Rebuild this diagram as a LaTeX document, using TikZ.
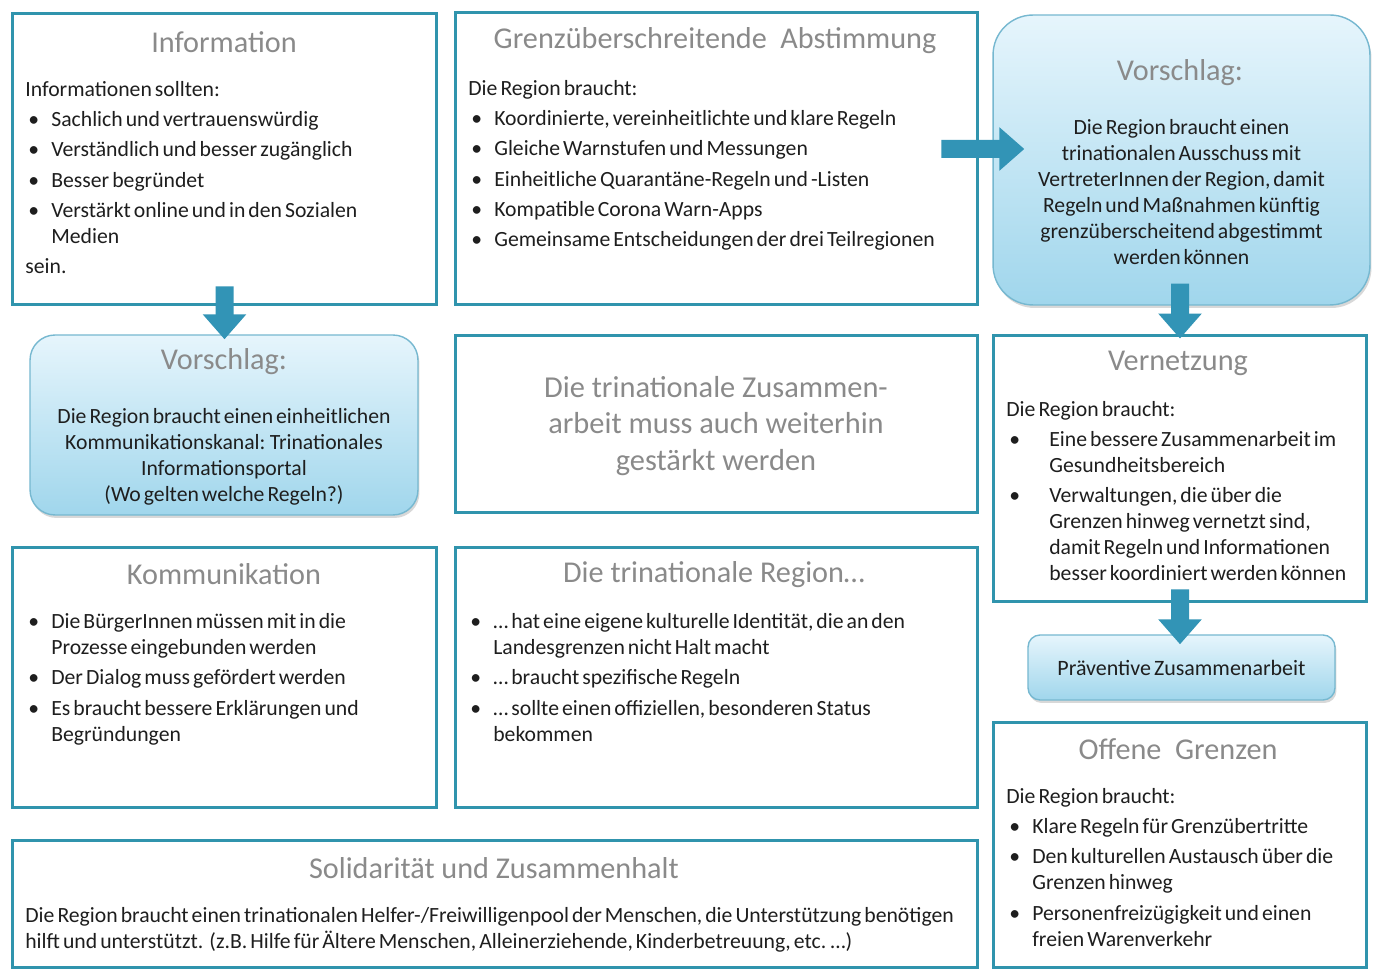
\documentclass[tikz,border=0pt]{standalone}
\usepackage{fontspec}
\setmainfont{Carlito}
\newfontfamily\bodyfam{Carlito}[WordSpace=0.6]
\usetikzlibrary{arrows.meta,shadows}
\definecolor{teal1}{RGB}{48,148,173}
\definecolor{arrowc}{RGB}{50,148,182}
\definecolor{titlegray}{RGB}{138,138,138}
\definecolor{bodyc}{RGB}{30,30,30}
\definecolor{vtop}{RGB}{230,245,252}
\definecolor{vbot}{RGB}{160,214,236}
\definecolor{vborder}{RGB}{118,184,208}
\newcommand\titlefont{\fontsize{17.2}{20}\selectfont}
\newcommand\bodyfont{\bodyfam\fontsize{12.35}{14.8}\selectfont\setlength\parskip{2.4pt}\setlength\parindent{0pt}}
\newcommand\tsp{\spaceskip=0.14em\relax\xspaceskip=0.2em\relax}
\newcommand\bitem[2][0.52cm]{\par\hangindent=#1\hangafter=1\noindent\makebox[#1][l]{\hspace{0.06cm}\textbullet}#2}
\begin{document}
\begin{tikzpicture}[x=0.02cm,y=0.02cm,
  box/.style={draw=teal1, line width=1.7pt, fill=white, inner sep=0pt},
  vbox/.style={draw=vborder, line width=0.8pt, top color=vtop, bottom color=vbot,
    drop shadow={shadow xshift=0.03cm, shadow yshift=-0.06cm, opacity=0.3}, inner sep=0pt},
  ttl/.style={font=\titlefont, text=titlegray, inner sep=0pt},
  body/.style={font=\bodyfont, text=bodyc, inner sep=0pt, anchor=north west, align=left, execute at begin node=\tsp},
  cbody/.style={font=\bodyfont, text=bodyc, inner sep=0pt, anchor=north, align=center, execute at begin node=\tsp},
  blockarrow/.style={draw=arrowc, line width=0.36cm, -{Triangle[width=0.84cm,length=0.5cm]}}]
\useasboundingbox[fill=white] (0,0) rectangle (1373,-972);

% boxes
\node[box, minimum width=8.5cm, minimum height=5.84cm] (info) at (224.5,-159) {};
\node[box, minimum width=10.46cm, minimum height=5.86cm] (grenz) at (716.5,-158.5) {};
\node[vbox, rounded corners=0.8cm, minimum width=7.54cm, minimum height=5.8cm] (vorR) at (1181.5,-160) {};
\node[vbox, rounded corners=0.5cm, minimum width=7.76cm, minimum height=3.6cm] (vorL) at (224,-425) {};
\node[box, minimum width=10.46cm, minimum height=3.56cm] (mid) at (716.5,-424) {};
\node[box, minimum width=7.48cm, minimum height=5.34cm] (vern) at (1180,-468.5) {};
\node[box, minimum width=8.5cm, minimum height=5.22cm] (komm) at (224.5,-677.5) {};
\node[box, minimum width=10.46cm, minimum height=5.22cm] (trin) at (716.5,-677.5) {};
\node[vbox, rounded corners=0.24cm, minimum width=6.14cm, minimum height=1.3cm,
  font=\bodyfam\fontsize{12.5}{14}\selectfont, text=bodyc] (prav) at (1181.5,-667.5) {Präventive Zusammenarbeit};
\node[box, minimum width=7.48cm, minimum height=4.92cm] (offen) at (1180,-845) {};
\node[box, minimum width=19.32cm, minimum height=2.56cm] (solid) at (495,-904) {};

% titles
\node[ttl] (tinfo) at (224,-42) {Information};
\node[ttl] (tgrenz) at (715,-41) {Grenzüberschreitende\ \ Abstimmung};
\node[ttl] (tvorR) at (1180,-73) {Vorschlag:};
\node[ttl] (tvorL) at (224,-362) {Vorschlag:};
\node[ttl] (tvern) at (1178,-363) {Vernetzung};
\node[ttl] (tkomm) at (224,-574) {Kommunikation};
\node[ttl] (ttrin) at (714,-575) {Die trinationale Region…};
\node[ttl] (toffen) at (1178,-749) {Offene\ \ Grenzen};
\node[ttl] (tsolid) at (494,-868) {Solidarität und Zusammenhalt};
\node[ttl, font=\fontsize{17.3}{20.8}\selectfont, align=center] (tmid) at (716,-426)
  {Die trinationale Zusammen-\\arbeit muss auch weiterhin\\gestärkt werden};

% bodies
\node[body, text width=8.3cm] (binfo) at (25,-78) {\strut Informationen sollten:
  \bitem{Sachlich und vertrauenswürdig}
  \bitem{Verständlich und besser zugänglich}
  \bitem{Besser begründet}
  \bitem{Verstärkt online und in den Sozialen\newline Medien}
  \par sein.\par};
\node[body, text width=10.2cm] (bgrenz) at (468,-77) {\strut Die Region braucht:
  \bitem{Koordinierte, vereinheitlichte und klare Regeln}
  \bitem{Gleiche Warnstufen und Messungen}
  \bitem{Einheitliche Quarantäne-Regeln und -Listen}
  \bitem{Kompatible Corona Warn-Apps}
  \bitem{Gemeinsame Entscheidungen der drei Teilregionen}\par};
\node[cbody, text width=7.3cm] (bvorR) at (1181.5,-116) {\strut Die Region braucht einen\\
  trinationalen Ausschuss mit\\
  VertreterInnen der Region, damit\\
  Regeln und Maßnahmen künftig\\
  grenzüberscheitend abgestimmt\\
  werden können};
\node[cbody, text width=7.6cm] (bvorL) at (224,-405) {\strut Die Region braucht einen einheitlichen\\
  Kommunikationskanal: Trinationales\\
  Informationsportal\\
  (Wo gelten welche Regeln?)};
\node[body, text width=7.3cm] (bvern) at (1006,-398) {\strut Die Region braucht:
  \bitem[0.86cm]{Eine bessere Zusammenarbeit im\newline Gesundheitsbereich}
  \bitem[0.86cm]{Verwaltungen, die über die\newline Grenzen hinweg vernetzt sind,\newline damit Regeln und Informationen\newline besser koordiniert werden können}\par};
\node[body, text width=8.3cm] (bkomm) at (25,-598) {\bitem{\strut Die BürgerInnen müssen mit in die\newline Prozesse eingebunden werden}
  \bitem{Der Dialog muss gefördert werden}
  \bitem{Es braucht bessere Erklärungen und\newline Begründungen}\par};
\node[body, text width=10.2cm] (btrin) at (467,-598) {\bitem{\strut … hat eine eigene kulturelle Identität, die an den\newline Landesgrenzen nicht Halt macht}
  \bitem{… braucht spezifische Regeln}
  \bitem{… sollte einen offiziellen, besonderen Status\newline bekommen}\par};
\node[body, text width=7.3cm] (boffen) at (1006,-785) {\strut Die Region braucht:
  \bitem{Klare Regeln für Grenzübertritte}
  \bitem{Den kulturellen Austausch über die\newline Grenzen hinweg}
  \bitem{Personenfreizügigkeit und einen\newline freien Warenverkehr}\par};
\node[body, text width=19.4cm] (bsolid) at (25,-904) {\strut Die Region braucht einen trinationalen Helfer-/Freiwilligenpool der Menschen, die Unterstützung benötigen\newline
  hilft und unterstützt.\ \ (z.B. Hilfe für Ältere Menschen, Alleinerziehende, Kinderbetreuung, etc. …)\par};

% arrows
\draw[blockarrow] ([yshift=0.4cm]info.south) -- ([yshift=-0.1cm,xshift=0.01cm]vorL.north);
\draw[blockarrow] ([xshift=-0.76cm,yshift=0.19cm]grenz.east) -- ([xshift=0.64cm,yshift=0.22cm]vorR.west);
\draw[blockarrow] ([yshift=0.44cm,xshift=-0.03cm]vorR.south) -- ([yshift=-0.1cm]vern.north);
\draw[blockarrow] ([yshift=0.28cm]vern.south) -- ([yshift=-0.2cm,xshift=-0.03cm]prav.north);
\end{tikzpicture}
\end{document}
